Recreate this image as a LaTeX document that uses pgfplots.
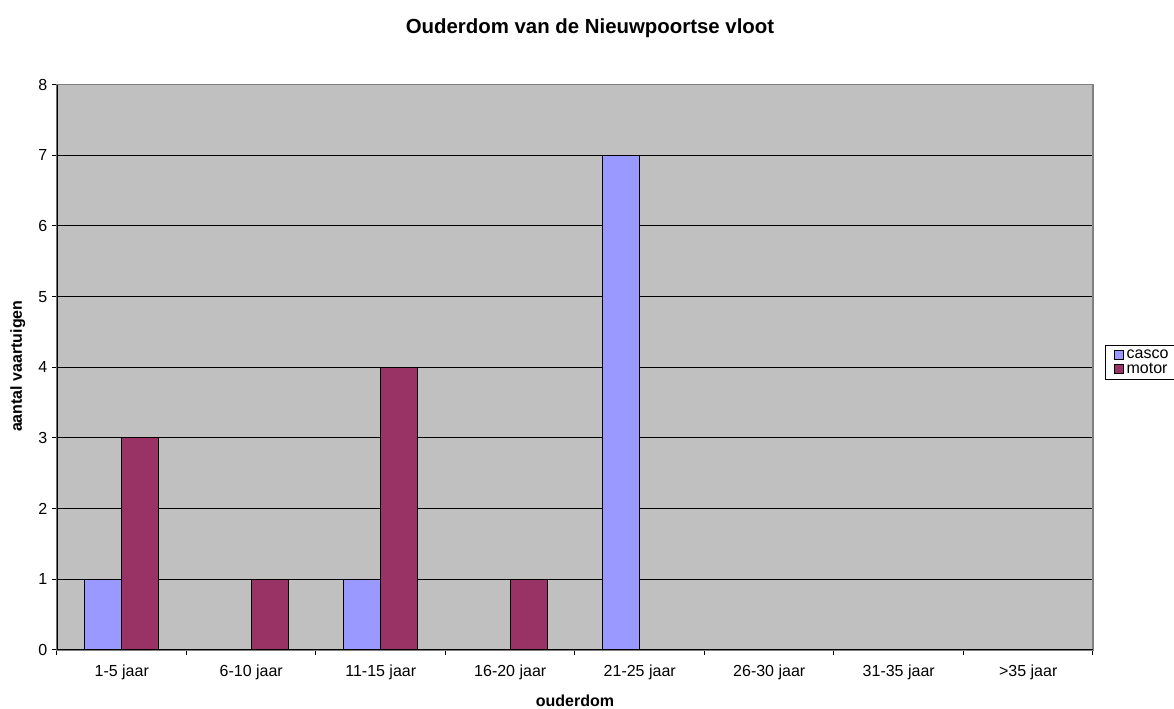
\documentclass[border=0pt]{standalone}
\usepackage{fontspec}
\setmainfont{Liberation Sans}
\usepackage{pgfplots}
\pgfplotsset{compat=1.18}
\definecolor{casco}{HTML}{9999FF}
\definecolor{motor}{HTML}{993366}
\definecolor{plotbg}{HTML}{C0C0C0}
\begin{document}
\begin{tikzpicture}[x=0.75pt,y=0.75pt]
\useasboundingbox (0,0) rectangle (1174,709);
\begin{axis}[
  at={(42.75pt,44.25pt)}, anchor=south west,
  width=777pt, height=424.1pt, scale only axis,
  ybar=0pt, bar width=27.75pt,
  xmin=-0.5, xmax=7.5, ymin=0, ymax=8,
  xtick={-0.5,0.5,...,7.5}, x tick label as interval,
  xticklabels={1-5 jaar,6-10 jaar,11-15 jaar,16-20 jaar,21-25 jaar,26-30 jaar,31-35 jaar,>35 jaar},
  ytick={0,...,8},
  xtick pos=bottom, ytick pos=left,
  tick align=outside, major tick length=3.75pt,
  tick style={black, line width=0.75pt},
  ymajorgrids, grid style={black, line width=0.8pt},
  axis background/.style={fill=plotbg},
  axis line style={draw=gray, line width=1pt},
  /pgf/number format/assume math mode=true,
  ticklabel style={font=\fontsize{12}{14}\selectfont},
  xticklabel style={yshift=-4pt},
  xlabel={ouderdom}, ylabel={aantal vaartuigen},
  label style={font=\fontsize{12}{14}\selectfont\bfseries},
  xlabel style={at={(axis description cs:0.5,-0.1008)}, anchor=base},
  ylabel style={at={(axis description cs:-0.0338,0.502)}, anchor=base},
  legend style={at={(1.0116,0.539)}, anchor=north west, draw=black, line width=0.75pt,
    font=\fontsize{12}{13}\selectfont, inner xsep=6.5pt, inner ysep=1pt, row sep=-2pt},
  legend cell align=left,
]
\addplot[fill=casco, draw=black, line width=0.75pt,
  legend image code/.code={\draw[fill=casco, draw=black, line width=0.6pt] (0pt,-3.4pt) rectangle (6.75pt,3.4pt);}]
  coordinates {(0,1) (2,1) (4,7)};
\addlegendentry{casco}
\addplot[fill=motor, draw=black, line width=0.75pt,
  legend image code/.code={\draw[fill=motor, draw=black, line width=0.6pt] (0pt,-3.4pt) rectangle (6.75pt,3.4pt);}]
  coordinates {(0,3) (1,1) (2,4) (3,1)};
\addlegendentry{motor}
\draw[black, line width=1pt] (rel axis cs:0,1) -- (rel axis cs:0,0) -- (rel axis cs:1,0);
\end{axis}
\node[font=\fontsize{15.3}{18}\selectfont\bfseries, anchor=base] at (590,675) {Ouderdom van de Nieuwpoortse vloot};
\end{tikzpicture}
\end{document}
